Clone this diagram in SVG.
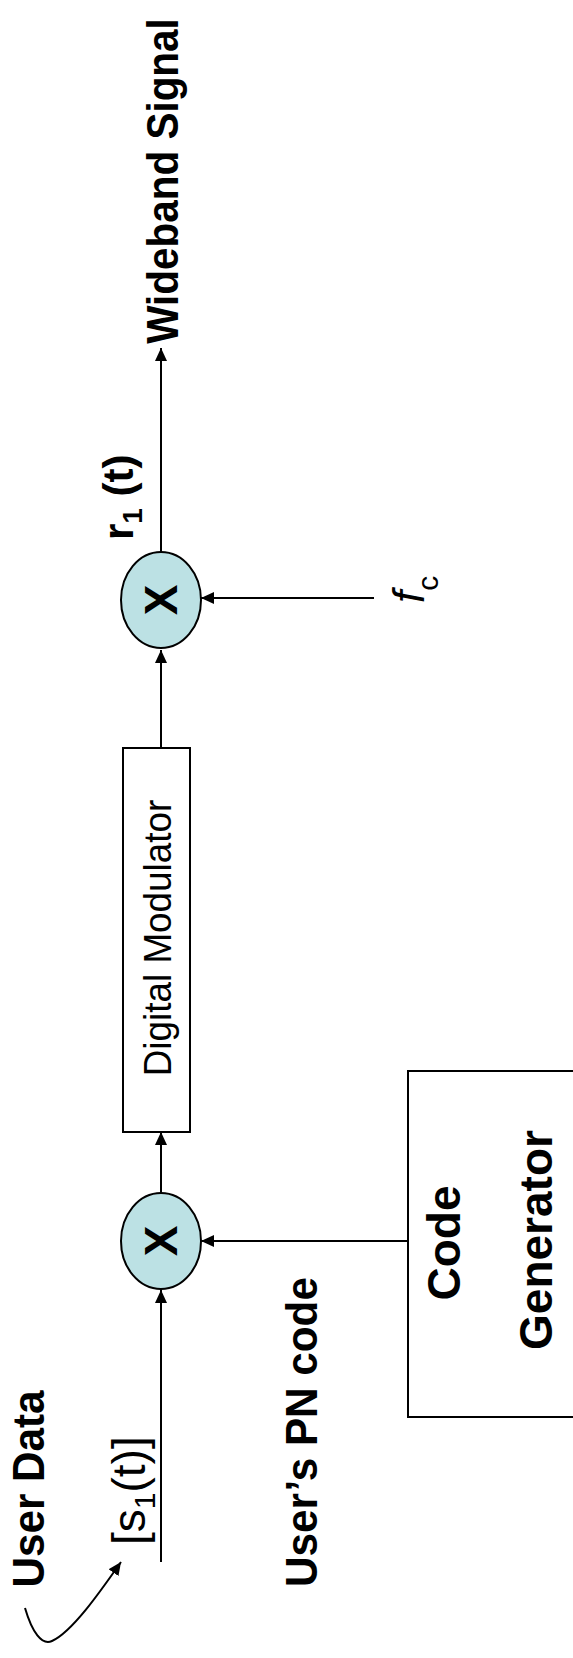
<svg xmlns="http://www.w3.org/2000/svg" width="573" height="1658" viewBox="0 0 573 1658">
<style>
.t{font-family:"Liberation Sans",Arial,sans-serif;fill:#000}
.b{font-weight:bold}
.ln{stroke:#000;stroke-width:2;fill:none}
.box{fill:#fff;stroke:#000;stroke-width:2}
.mix{fill:#BCE1E4;stroke:#000;stroke-width:2}
</style>
<defs>
<marker id="ah" markerUnits="userSpaceOnUse" markerWidth="13" markerHeight="12" refX="13" refY="6" orient="auto">
<path d="M0,0 L13,6 L0,12 z" fill="#000"/>
</marker>
</defs>
<rect width="573" height="1658" fill="#fff"/>
<g id="connectors">
<path class="ln" d="M161 1562 L161 1290" marker-end="url(#ah)"/>
<path class="ln" d="M161 1193 L161 1132" marker-end="url(#ah)"/>
<path class="ln" d="M161 748 L161 650" marker-end="url(#ah)"/>
<path class="ln" d="M161 552 L161 348" marker-end="url(#ah)"/>
<path class="ln" d="M374 598 L201 598" marker-end="url(#ah)"/>
<path class="ln" d="M408 1241 L201 1241" marker-end="url(#ah)"/>
<path class="ln" d="M25 1608 C32 1632 42 1646 52 1641 C72 1632 100 1592 121 1562" marker-end="url(#ah)"/>
</g>
<g id="mixer-lower">
<ellipse class="mix" cx="161" cy="1241" rx="40" ry="48"/>
<text class="t b" font-size="46" text-anchor="middle" transform="translate(177,1241) rotate(-90)">X</text>
</g>
<g id="digital-modulator">
<rect class="box" x="123" y="748" width="67" height="384"/>
<text class="t" font-size="38" text-anchor="middle" transform="translate(170.5,938) rotate(-90) scale(0.97,1)">Digital Modulator</text>
</g>
<g id="mixer-upper">
<ellipse class="mix" cx="161" cy="600" rx="40" ry="48"/>
<text class="t b" font-size="46" text-anchor="middle" transform="translate(177,600) rotate(-90)">X</text>
</g>
<g id="code-generator">
<rect class="box" x="408" y="1071" width="200" height="346"/>
<text class="t b" font-size="46" text-anchor="middle" transform="translate(460,1243) rotate(-90)">Code</text>
<text class="t b" font-size="46" text-anchor="middle" transform="translate(552,1240) rotate(-90)">Generator</text>
</g>
<g id="labels">
<text class="t b" font-size="44" text-anchor="middle" transform="translate(178,181) rotate(-90) scale(0.92,1)">Wideband Signal</text>
<text class="t b" font-size="42" transform="translate(133,540) rotate(-90)">r<tspan font-size="28" dy="9">1</tspan><tspan dy="-9"> (t)</tspan></text>
<text class="t" font-size="44" font-style="italic" transform="translate(424,603) rotate(-90)">f<tspan font-style="normal" font-size="30" dy="14">c</tspan></text>
<text class="t b" font-size="44" text-anchor="middle" transform="translate(317,1432) rotate(-90) scale(0.96,1)">User’s PN code</text>
<text class="t b" font-size="44" text-anchor="middle" transform="translate(44,1489) rotate(-90) scale(0.96,1)">User Data</text>
<text class="t" font-size="46" transform="translate(145,1545) rotate(-90)">[s<tspan font-size="30" dy="10">1</tspan><tspan dy="-10">(t)]</tspan></text>
</g>
</svg>
